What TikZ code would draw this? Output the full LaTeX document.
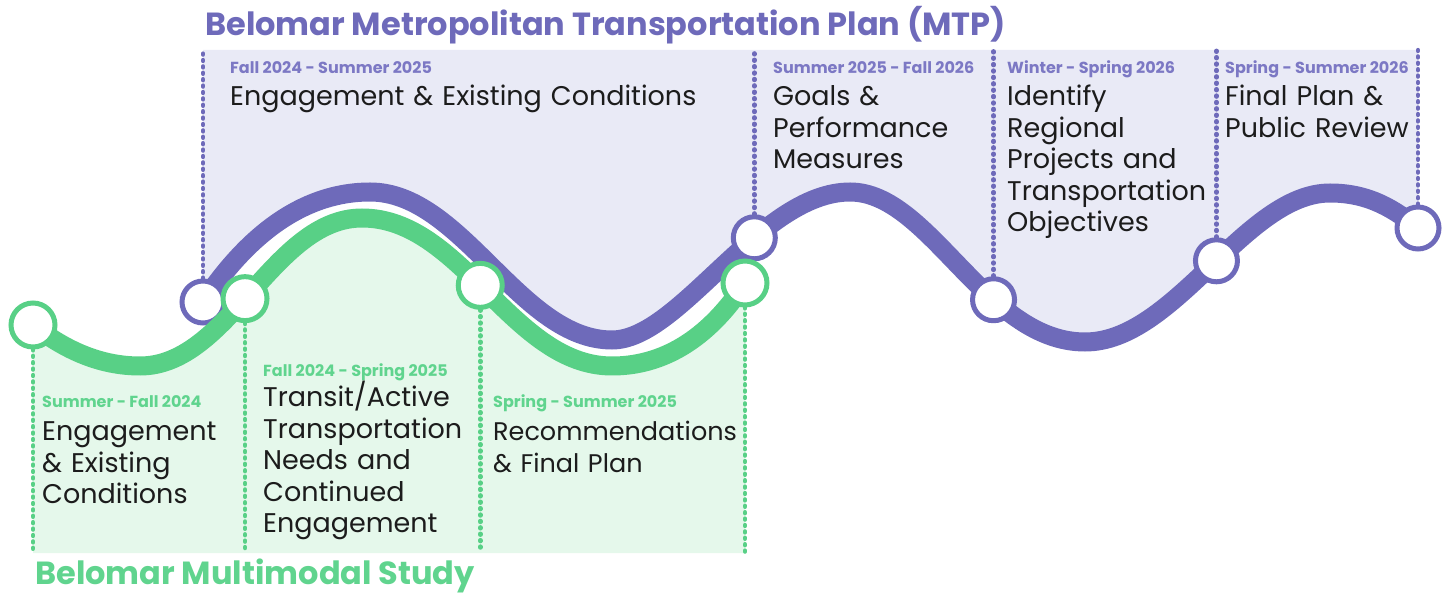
\documentclass[tikz,border=0pt]{standalone}
\usepackage{fontspec}
\setmainfont{Poppins}
\definecolor{mtp}{RGB}{110,106,186}
\definecolor{mtpsoft}{RGB}{124,120,196}
\definecolor{mms}{RGB}{88,208,134}
\definecolor{mmssoft}{RGB}{96,212,142}
\definecolor{lav}{RGB}{233,234,246}
\definecolor{mint}{RGB}{229,248,235}
\definecolor{ink}{RGB}{28,28,28}
\begin{document}
\begin{tikzpicture}[x=1pt,y=-1pt,
  mtpline/.style={draw=mtp,line width=19pt},
  mmsline/.style={draw=mms,line width=19pt},
  mtpstop/.style={circle,draw=mtp,fill=white,line width=5pt,minimum size=42pt,inner sep=0pt},
  mmsstop/.style={circle,draw=mms,fill=white,line width=5pt,minimum size=44pt,inner sep=0pt},
  mtpdots/.style={draw=mtp,line width=4.6pt,line cap=round,dash pattern=on 0.8pt off 5.6pt},
  mmsdots/.style={draw=mms,line width=4.6pt,line cap=round,dash pattern=on 0.8pt off 5.6pt},
  heading/.style={font=\fontsize{32}{36}\selectfont\bfseries,anchor=base west,inner sep=0pt},
  period/.style={font=\fontsize{16}{19}\selectfont\bfseries,anchor=base west,inner sep=0pt},
  task/.style={font=\fontsize{27}{31.5}\selectfont,text=ink,anchor=base west,inner sep=0pt,align=left,text width=480pt}]
\useasboundingbox (0,0) rectangle (1452,593);

% shaded phase areas, bounded by the two timelines
\fill[lav] (203,50) -- (203,302)
  .. controls (230,262) and (285,192) .. (370,192)
  .. controls (462,192) and (520,340) .. (612,340)
  .. controls (680,340) and (760,192) .. (850,192)
  .. controls (930,192) and (985,342) .. (1085,342)
  .. controls (1175,342) and (1245,193) .. (1330,193)
  .. controls (1370,193) and (1395,210) .. (1418,228)
  -- (1418,50) -- cycle;
\fill[mint] (33,553) -- (33,325)
  .. controls (65,350) and (100,366) .. (140,366)
  .. controls (229,366) and (273,218) .. (362,218)
  .. controls (462,218) and (512,366) .. (612,366)
  .. controls (680,366) and (722,318) .. (745,283)
  -- (745,553) -- cycle;

% MTP timeline
\draw[mtpline] (203,302) coordinate (m1)
  .. controls (230,262) and (285,192) .. (370,192)
  .. controls (462,192) and (520,340) .. (612,340)
  .. controls (680,340) and (760,192) .. (850,192) coordinate[pos=0.63] (m2)
  .. controls (930,192) and (985,342) .. (1085,342) coordinate[pos=0.65] (m3)
  .. controls (1175,342) and (1245,193) .. (1330,193) coordinate[pos=0.53] (m4)
  .. controls (1370,193) and (1395,210) .. (1418,228) coordinate (m5);
\foreach \s in {m1,m2,m3,m4,m5} \node[mtpstop] (s\s) at (\s) {};

% study timeline
\draw[mmsline] (33,325) coordinate (g1)
  .. controls (65,350) and (100,366) .. (140,366)
  .. controls (229,366) and (273,218) .. (362,218) coordinate[pos=0.47] (g2)
  .. controls (462,218) and (512,366) .. (612,366) coordinate[pos=0.47] (g3)
  .. controls (680,366) and (722,318) .. (745,283) coordinate (g4);
\foreach \s in {g1,g2,g3,g4} \node[mmsstop] (s\s) at (\s) {};

% phase dividers
\foreach \s in {m1,m2,m3,m4,m5} \draw[mtpdots] (s\s.north) -- (s\s.north |- 0,49);
\foreach \s in {g1,g2,g3,g4} \draw[mmsdots] (s\s.south) -- (s\s.south |- 0,553);

% headings
\node[heading,text=mtp] (mtptitle) at (205,36) {Belomar Metropolitan Transportation Plan (MTP)};
\node[heading,text=mmssoft] (mmstitle) at (35,584) {Belomar Multimodal Study};

% MTP phases
\node[period,text=mtpsoft] (d1) at (230,74) {Fall 2024 - Summer 2025};
\node[task] (t1) at (230,106) {Engagement \& Existing Conditions};
\node[period,text=mtpsoft] (d2) at (773,74) {Summer 2025 - Fall 2026};
\node[task] (t2) at (773,106) {Goals \&\\Performance\\Measures};
\node[period,text=mtpsoft] (d3) at (1007,74) {Winter - Spring 2026};
\node[task] (t3) at (1007,106) {Identify\\Regional\\Projects and\\Transportation\\Objectives};
\node[period,text=mtpsoft] (d4) at (1225,74) {Spring - Summer 2026};
\node[task] (t4) at (1225,106) {Final Plan \&\\Public Review};

% study phases
\node[period,text=mmssoft] (e1) at (42,408) {Summer - Fall 2024};
\node[task] (u1) at (42,441) {Engagement\\\& Existing\\Conditions};
\node[period,text=mmssoft] (e2) at (263,377) {Fall 2024 - Spring 2025};
\node[task] (u2) at (263,407) {Transit/Active\\Transportation\\Needs and\\Continued\\Engagement};
\node[period,text=mmssoft] (e3) at (493,408) {Spring - Summer 2025};
\node[task,font=\fontsize{25.5}{31.5}\selectfont] (u3) at (493,441) {Recommendations\\\& Final Plan};
\end{tikzpicture}
\end{document}
